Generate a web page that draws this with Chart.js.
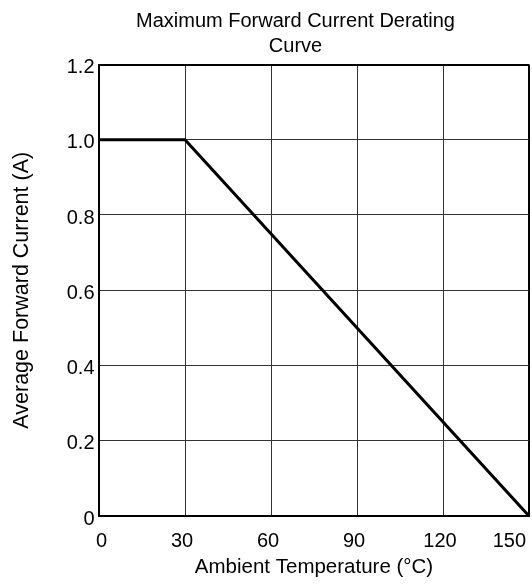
<!DOCTYPE html>
<html>
<head>
<meta charset="utf-8">
<title>Maximum Forward Current Derating Curve</title>
<script src="https://cdn.jsdelivr.net/npm/chart.js@4.4.1/dist/chart.umd.min.js"></script>
<style>
  html, body { margin: 0; padding: 0; background: #fff; }
  #wrap { width: 532px; height: 584px; }
</style>
</head>
<body>
<div id="wrap"><canvas id="derating" width="532" height="584"></canvas></div>
<script>
// derating curve
const ambientTemp = [0, 30, 150];      // °C
const forwardCurrent = [1.0, 1.0, 0];  // A
const xTickValues = [0, 30, 60, 90, 120, 150];
const yTickLabels = ["0", "0.2", "0.4", "0.6", "0.8", "1.0", "1.2"];

Chart.defaults.font.family = "'Liberation Sans', Arial, sans-serif";
Chart.defaults.color = "#000";

const points = ambientTemp.map((t, i) => ({ x: t, y: forwardCurrent[i] }));

// the title sits right of the canvas centre in the original, so the
// left padding pushes it over; the y axis title is pulled back with a negative pad.
// y tick labels get clipped to the scale box, so keep it wide enough for them
const padLeft = 62;

const ctx = document.getElementById("derating").getContext("2d");
const deratingChart = new Chart(ctx, {
  type: "scatter",
  data: {
    datasets: [{
      data: points,
      showLine: true,
      borderColor: "#000",
      borderWidth: 3,
      pointRadius: 0,
      fill: false
    }]
  },
  options: {
    responsive: false,
    animation: false,
    layout: { padding: { left: padLeft, right: 3, top: 0, bottom: 0 } },
    plugins: {
      legend: { display: false },
      tooltip: { enabled: false },
      title: {
        display: true,
        text: ["Maximum Forward Current Derating", "Curve"],
        font: { size: 20, weight: "normal", lineHeight: 1.25 },
        color: "#000",
        padding: { top: 9, bottom: 5.5 }
      }
    },
    scales: {
      x: {
        type: "linear",
        min: 0,
        max: 150,
        afterBuildTicks: scale => {
          scale.ticks = xTickValues.map(v => ({ value: v }));
        },
        afterFit: scale => {
          scale.height = 68;
          scale.paddingLeft = 0;
          scale.paddingRight = 0;
        },
        ticks: {
          align: "inner",
          labelOffset: -3,
          padding: 13.5,
          font: { size: 20 },
          maxRotation: 0,
          callback: v => String(v)
        },
        grid: {
          drawTicks: false,
          color: c => (c.tick && c.tick.value === 150) ? "#000" : "#333",
          lineWidth: c => (c.tick && c.tick.value === 150) ? 2 : 1
        },
        border: { color: "#000", width: 2 },
        title: {
          display: true,
          text: "Ambient Temperature (°C)",
          font: { size: 20.5 },
          padding: { top: 6, bottom: 4 }
        }
      },
      y: {
        min: 0,
        max: 1.2,
        afterBuildTicks: scale => {
          scale.ticks = yTickLabels.map(s => ({ value: parseFloat(s) }));
        },
        afterFit: scale => {
          scale.width = 99 - padLeft;
          scale.paddingTop = 0;
          scale.paddingBottom = 0;
        },
        ticks: {
          padding: 4.5,
          labelOffset: 3,
          font: { size: 20 },
          callback: (v, i) => yTickLabels[i]
        },
        grid: {
          drawTicks: false,
          color: c => (c.tick && c.tick.value === 1.2) ? "#000" : "#333",
          lineWidth: c => (c.tick && c.tick.value === 1.2) ? 2 : 1
        },
        border: { color: "#000", width: 2 },
        title: {
          display: true,
          text: "Average Forward Current (A)",
          font: { size: 21.5 },
          padding: { top: 22 - 12.9 - padLeft, bottom: 0 }
        }
      }
    }
  }
});
</script>
</body>
</html>
